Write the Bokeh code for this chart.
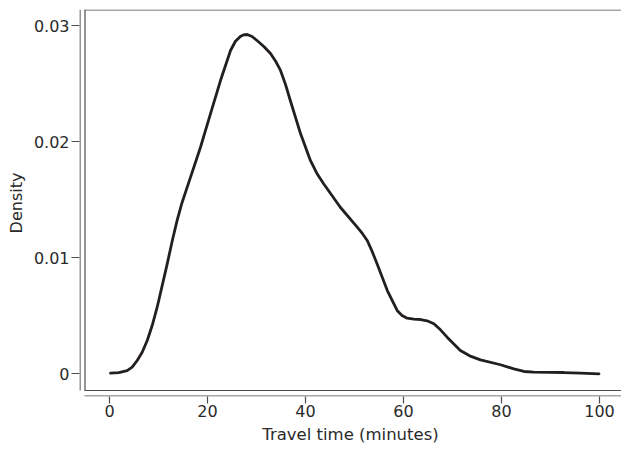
from bokeh.plotting import figure
from bokeh.models import Range1d, FixedTicker
from bokeh.embed import file_html
from bokeh.resources import INLINE

# ---- data ----
travel_time = [0.2, 1.9, 3.6, 4.63, 5.65, 6.67, 7.7, 8.71, 9.73, 11.78, 12.8, 13.8,
               14.8, 15.86, 18.57, 20.6, 22.65, 24.7, 25.7, 26.7, 27.4, 28.1, 29.1,
               30.1, 31.5, 32.9, 33.9, 34.9, 35.9, 36.9, 39.0, 41.0, 42.3, 43.7,
               47.1, 50.55, 51.6, 52.6, 53.6, 54.6, 56.7, 58.7, 59.7, 60.75, 62.1,
               63.5, 64.8, 66.2, 67.55, 68.9, 71.6, 73.5, 75.7, 79.8, 82.5, 84.6,
               86.6, 92.7, 96.1, 99.9]
density = [0.00005, 0.00011, 0.00028, 0.00057, 0.00115, 0.00186, 0.00287, 0.00416,
           0.00574, 0.00948, 0.01145, 0.01322, 0.01475, 0.01609, 0.01953, 0.02241,
           0.02528, 0.02787, 0.02867, 0.02908, 0.02922, 0.02925, 0.02908, 0.02873,
           0.02822, 0.02759, 0.02695, 0.02615, 0.02497, 0.02356, 0.02069, 0.01839,
           0.01729, 0.01638, 0.01436, 0.01264, 0.0121, 0.01149, 0.01055, 0.00948,
           0.00718, 0.00546, 0.00503, 0.00479, 0.00471, 0.00468, 0.00457, 0.00431,
           0.00379, 0.00316, 0.00201, 0.00155, 0.0012, 0.00078, 0.00043, 0.0002,
           0.00014, 0.00011, 0.00005, 0.0]
x_ticks = [0, 20, 40, 60, 80, 100]
y_ticks = [0, 0.01, 0.02, 0.03]
y_tick_labels = ["0", "0.01", "0.02", "0.03"]
x_title = "Travel time (minutes)"
y_title = "Density"

# ---- layout ----
W, H = 621, 450
ML, MT, MB, MR = 79, 9, 54, 0
FW, FH = W - ML - MR, H - MT - MB
px_per_x = 4.9
px_per_y = 11600.0
x0_off = 30.0      # pixels from frame left to x=0
y0_off = 22.7      # pixels from frame bottom to y=0
x_start = -x0_off / px_per_x
x_end = x_start + FW / px_per_x
y_start = -y0_off / px_per_y
y_end = y_start + FH / px_per_y

def fx(off):
    return x_start + off / px_per_x

def fy(off_from_top):
    return y_end - off_from_top / px_per_y

FONT = "DejaVu Sans"
TXT = "#2a2a2a"
AX = "#4d4d4d"

p = figure(width=W, height=H, output_backend="svg", toolbar_location=None,
           x_range=Range1d(x_start, x_end), y_range=Range1d(y_start, y_end),
           min_border_left=ML, min_border_top=MT, min_border_bottom=MB,
           min_border_right=MR)
p.outline_line_color = None
p.xgrid.visible = False
p.ygrid.visible = False
p.background_fill_color = "white"
p.border_fill_color = "white"

# frame box and offset axis lines (decoration)
far = x_end + 10
box_bottom = 381.0
p.segment(x0=[fx(0.5), fx(5.5), fx(5.0), fx(5.0), fx(5.0)],
          y0=[fy(0.0), fy(0.0), fy(0.5), fy(box_bottom), fy(386.5)],
          x1=[fx(0.5), fx(5.5), far, far, far],
          y1=[fy(box_bottom), fy(box_bottom), fy(0.5), fy(box_bottom), fy(386.5)],
          line_color=AX, line_width=1.2)

p.line(travel_time, density, line_color="#231f20", line_width=2.8,
       line_join="round", line_cap="round")

for ax in (p.xaxis[0], p.yaxis[0]):
    ax.axis_line_color = None
    ax.major_tick_line_color = AX
    ax.major_tick_line_width = 1.2
    ax.minor_tick_line_color = None
    ax.major_tick_in = 0
    ax.major_label_text_font = FONT
    ax.major_label_text_font_size = "16px"
    ax.major_label_text_color = TXT
    ax.axis_label_text_font = FONT
    ax.axis_label_text_font_style = "normal"
    ax.axis_label_text_color = TXT

p.xaxis.ticker = FixedTicker(ticks=x_ticks)
p.xaxis.major_tick_out = 7
p.xaxis.major_label_standoff = 1
p.xaxis.axis_label = x_title
p.xaxis.axis_label_text_font_size = "16.5px"
p.xaxis.axis_label_standoff = 5

p.yaxis.ticker = FixedTicker(ticks=y_ticks)
p.yaxis.major_label_overrides = {t: l for t, l in zip(y_ticks, y_tick_labels)}
p.yaxis.major_tick_out = 8
p.yaxis.major_label_standoff = 2
p.yaxis.major_label_orientation = "horizontal"
p.yaxis.axis_label = y_title
p.yaxis.axis_label_text_font_size = "16px"
p.yaxis.axis_label_standoff = 5

open("out.html", "w").write(file_html(p, INLINE))
